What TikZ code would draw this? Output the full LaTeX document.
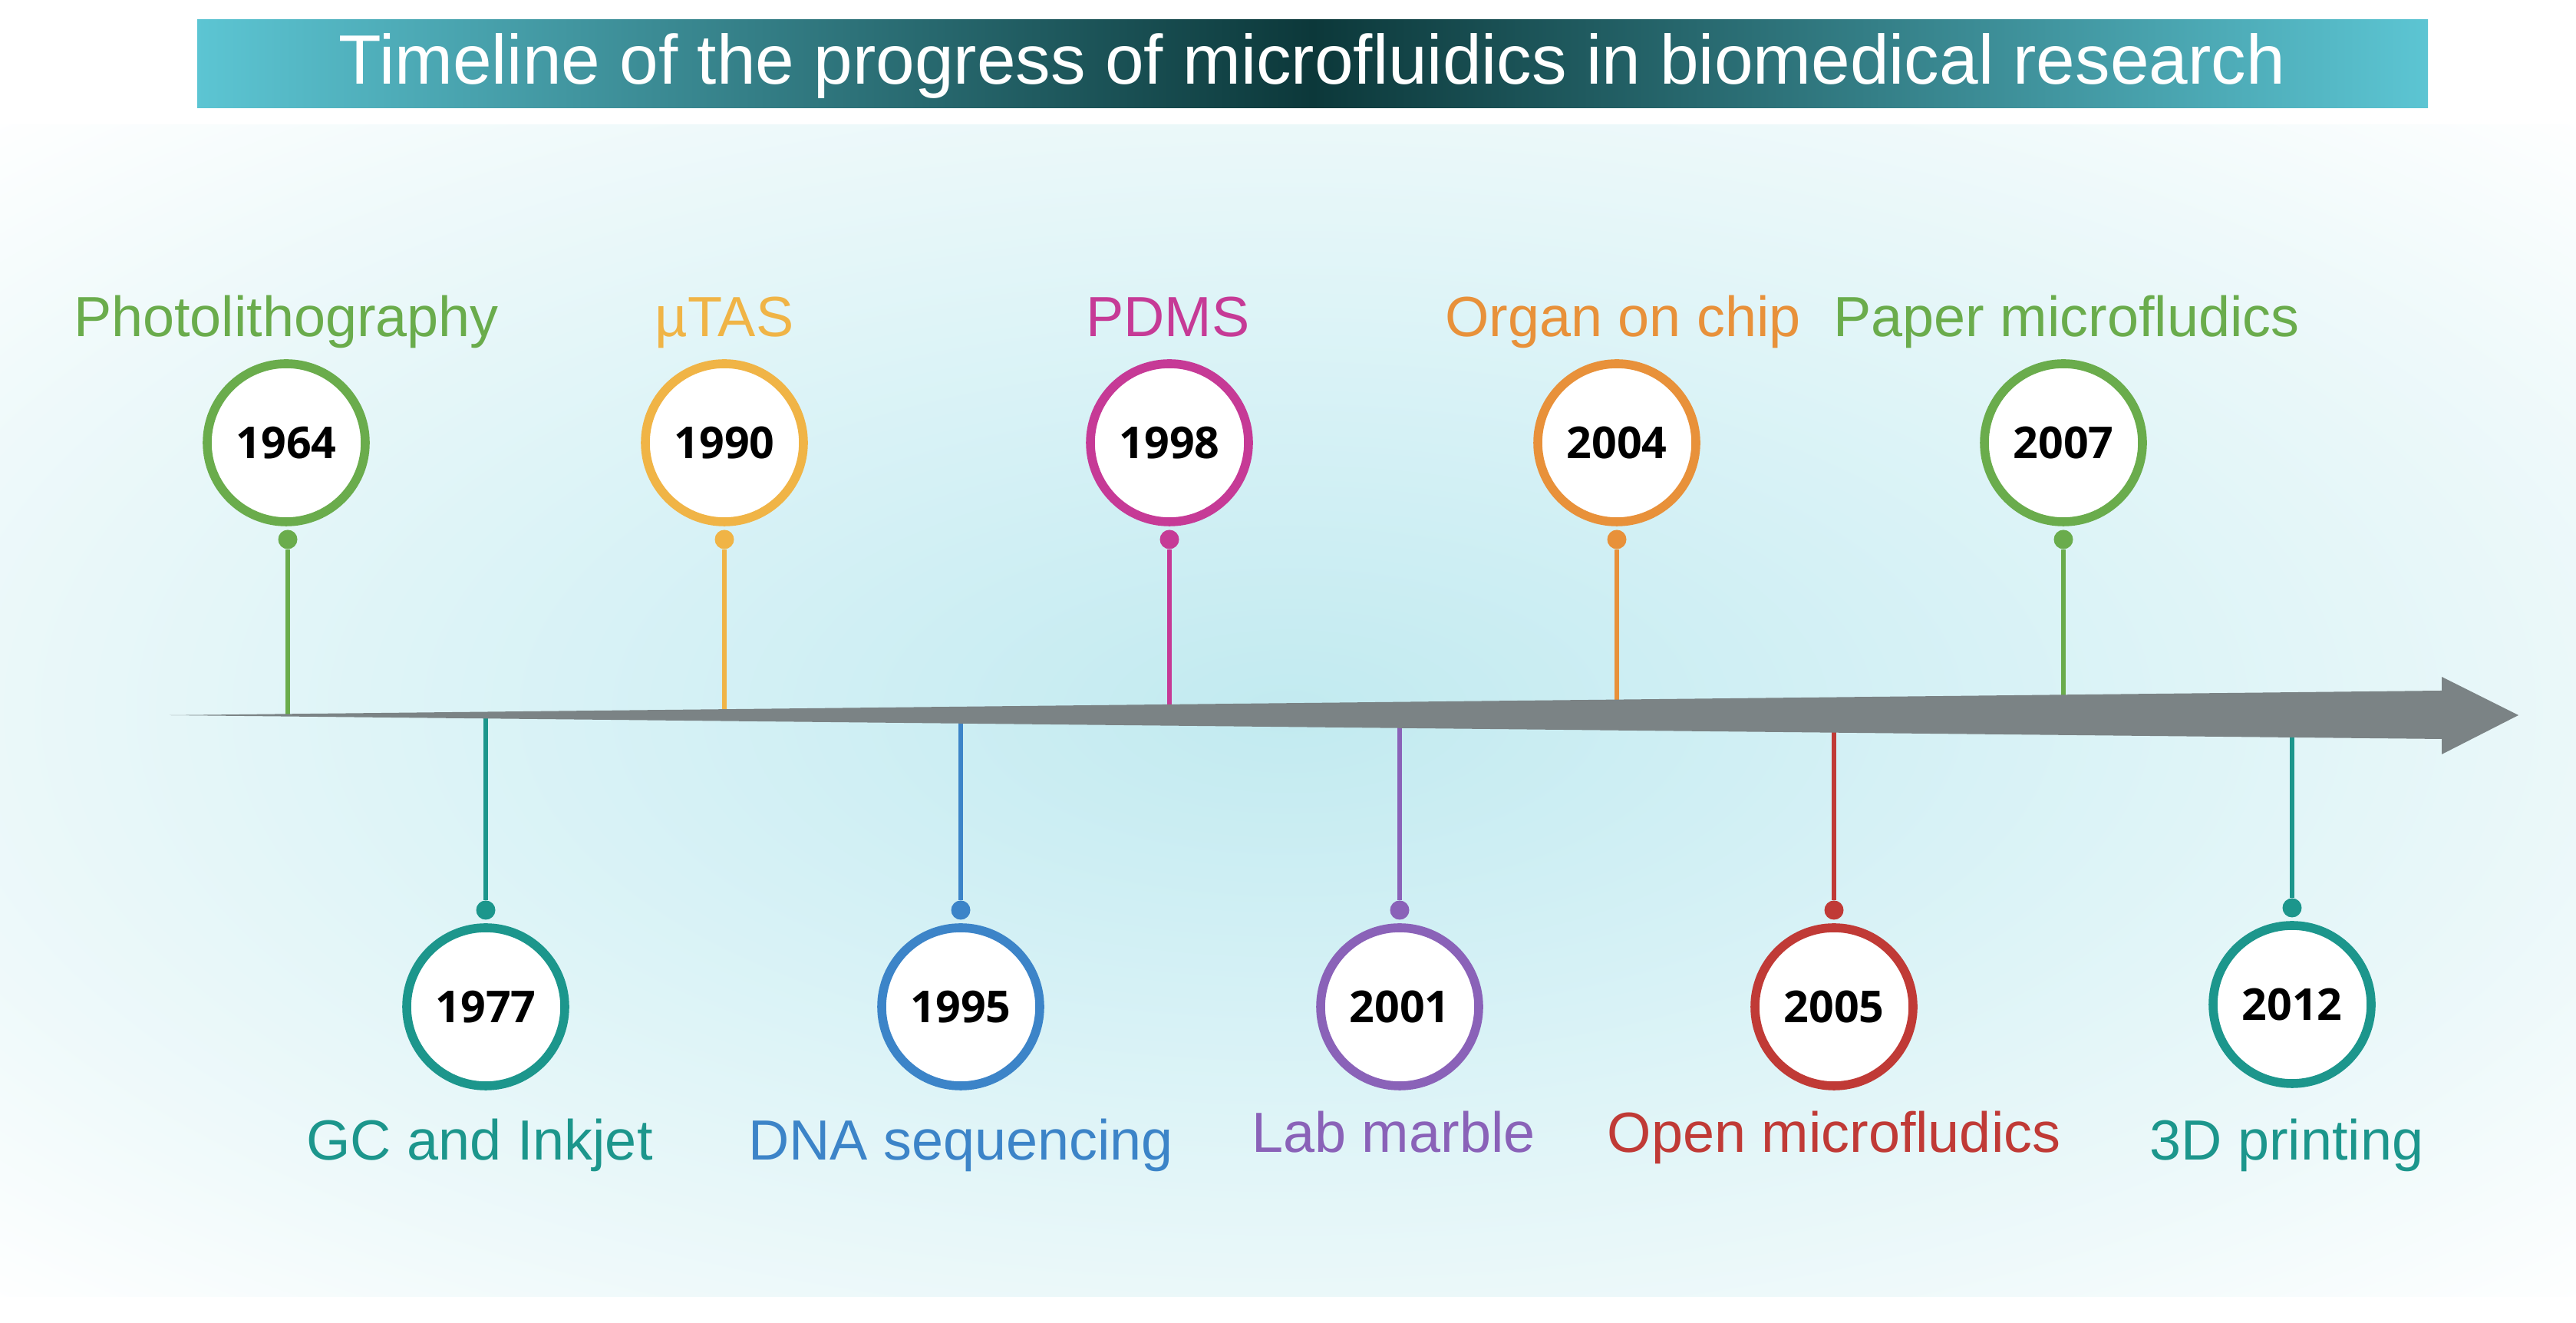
\documentclass[tikz,border=0pt]{standalone}
\usepackage{fontspec}
\setmainfont{Liberation Sans}
\newfontfamily\yearfont{Open Sans}
\definecolor{bgcore}{RGB}{194,234,240}
\definecolor{bgmid}{RGB}{216,242,246}
\definecolor{bgedge}{RGB}{238,249,250}
\definecolor{bancyan}{RGB}{92,197,211}
\definecolor{bandark}{RGB}{12,56,58}
\definecolor{axisgrey}{RGB}{123,131,133}
\definecolor{cgreen}{RGB}{106,172,76}
\definecolor{cyellow}{RGB}{240,180,70}
\definecolor{cmagenta}{RGB}{198,58,150}
\definecolor{corange}{RGB}{232,145,58}
\definecolor{cteal}{RGB}{28,150,140}
\definecolor{cblue}{RGB}{60,132,200}
\definecolor{cpurple}{RGB}{138,98,184}
\definecolor{cred}{RGB}{192,58,54}
\pgfdeclareradialshading{glow}{\pgfpoint{0bp}{0bp}}{color(0bp)=(bgcore); color(14bp)=(bgmid); color(27bp)=(bgedge); color(36bp)=(white); color(50bp)=(white)}
\begin{document}
\begin{tikzpicture}[
  yearring/.style={circle, draw=#1, line width=3.3pt, fill=white, minimum size=2.06cm, inner sep=0pt,
    font=\yearfont\bfseries\fontsize{16.3}{18}\selectfont},
  knob/.style={circle, fill=#1, minimum size=0.25cm, inner sep=0pt},
  stemline/.style={draw=#1, line width=1.7pt},
  evlabel/.style={text=#1, anchor=base, inner sep=0pt, font=\fontsize{21}{24}\selectfont}]
\useasboundingbox (0,0) rectangle (33.57,17.24);
% background and title
\begin{scope}[transform canvas={xscale=2.1985}]
\shade[shading=glow] (0,0.34) rectangle (15.27,15.61);
\end{scope}
\shade[left color=bancyan, right color=bancyan, middle color=bandark] (2.57,15.83) rectangle (31.64,16.98);
\node[text=white, font=\fontsize{25.9}{30}\selectfont] (title) at (17.1,16.38) {Timeline of the progress of microfluidics in biomedical research};
% events above the axis
\node[yearring=cgreen] (yr1964) at (3.73,11.47) {1964};
\node[knob=cgreen] (dot1964) at (3.75,10.21) {};
\coordinate (ax1964) at (3.75,7.92);
\draw[stemline=cgreen] (dot1964) -- (ax1964);
\node[evlabel=cgreen] (lab1964) at (3.73,12.85) {Photolithography};
\node[yearring=cyellow] (yr1990) at (9.44,11.47) {1990};
\node[knob=cyellow] (dot1990) at (9.44,10.21) {};
\coordinate (ax1990) at (9.44,7.92);
\draw[stemline=cyellow] (dot1990) -- (ax1990);
\node[evlabel=cyellow] (lab1990) at (9.44,12.85) {µTAS};
\node[yearring=cmagenta] (yr1998) at (15.24,11.47) {1998};
\node[knob=cmagenta] (dot1998) at (15.24,10.21) {};
\coordinate (ax1998) at (15.24,7.92);
\draw[stemline=cmagenta] (dot1998) -- (ax1998);
\node[evlabel=cmagenta] (lab1998) at (15.22,12.85) {PDMS};
\node[yearring=corange] (yr2004) at (21.07,11.47) {2004};
\node[knob=corange] (dot2004) at (21.07,10.21) {};
\coordinate (ax2004) at (21.07,7.92);
\draw[stemline=corange] (dot2004) -- (ax2004);
\node[evlabel=corange] (lab2004) at (21.15,12.85) {Organ on chip};
\node[yearring=cgreen] (yr2007) at (26.89,11.47) {2007};
\node[knob=cgreen] (dot2007) at (26.89,10.21) {};
\coordinate (ax2007) at (26.89,7.92);
\draw[stemline=cgreen] (dot2007) -- (ax2007);
\node[evlabel=cgreen] (lab2007) at (26.93,12.85) {Paper microfludics};
% events below the axis
\node[yearring=cteal] (yr1977) at (6.33,4.12) {1977};
\node[knob=cteal] (dot1977) at (6.33,5.38) {};
\coordinate (ax1977) at (6.33,7.92);
\draw[stemline=cteal] (ax1977) -- (dot1977);
\node[evlabel=cteal] (lab1977) at (6.25,2.12) {GC and Inkjet};
\node[yearring=cblue] (yr1995) at (12.52,4.12) {1995};
\node[knob=cblue] (dot1995) at (12.52,5.38) {};
\coordinate (ax1995) at (12.52,7.92);
\draw[stemline=cblue] (ax1995) -- (dot1995);
\node[evlabel=cblue] (lab1995) at (12.52,2.12) {DNA sequencing};
\node[yearring=cpurple] (yr2001) at (18.24,4.12) {2001};
\node[knob=cpurple] (dot2001) at (18.24,5.38) {};
\coordinate (ax2001) at (18.24,7.92);
\draw[stemline=cpurple] (ax2001) -- (dot2001);
\node[evlabel=cpurple] (lab2001) at (18.16,2.22) {Lab marble};
\node[yearring=cred] (yr2005) at (23.90,4.12) {2005};
\node[knob=cred] (dot2005) at (23.90,5.38) {};
\coordinate (ax2005) at (23.90,7.92);
\draw[stemline=cred] (ax2005) -- (dot2005);
\node[evlabel=cred] (lab2005) at (23.90,2.22) {Open microfludics};
\node[yearring=cteal] (yr2012) at (29.87,4.15) {2012};
\node[knob=cteal] (dot2012) at (29.87,5.41) {};
\coordinate (ax2012) at (29.87,7.92);
\draw[stemline=cteal] (ax2012) -- (dot2012);
\node[evlabel=cteal] (lab2012) at (29.80,2.12) {3D printing};
% the axis
\fill[axisgrey] (2.21,7.92) -- (31.82,8.24) -- (31.82,8.42) -- (32.82,7.92) -- (31.82,7.41) -- (31.82,7.61) -- cycle;
\end{tikzpicture}
\end{document}
